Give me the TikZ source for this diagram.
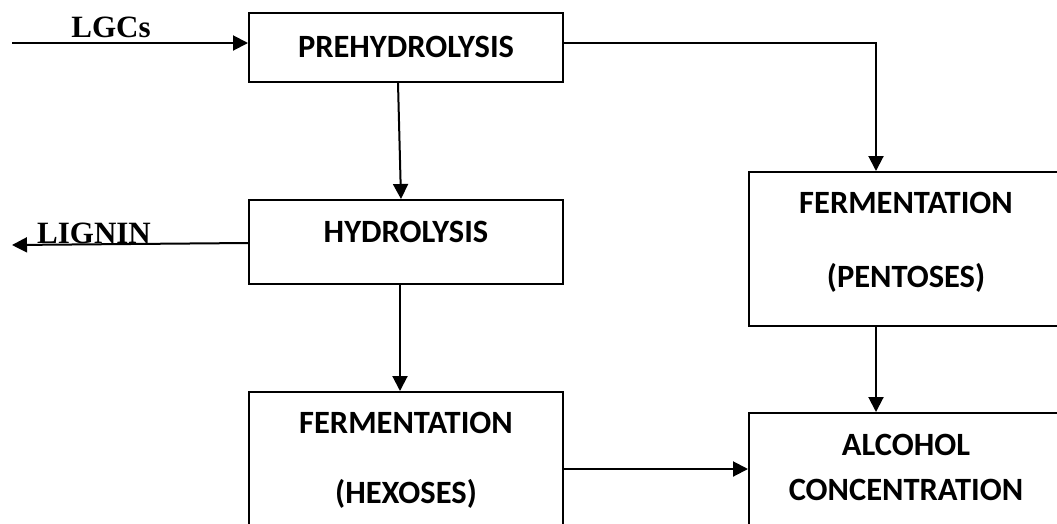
\documentclass[tikz,border=0pt]{standalone}
\usepackage{fontspec}
\setmainfont{Liberation Serif}
\newfontfamily\boxfont{Carlito}
\usetikzlibrary{arrows.meta,calc}
\begin{document}
\begin{tikzpicture}[x=1pt,y=-1pt,
  box/.style={draw, line width=2pt, minimum width=314pt, inner sep=0pt},
  boxtext/.style={font=\boxfont\bfseries\fontsize{32.5}{38}\selectfont, inner sep=0pt, anchor=base},
  lbl/.style={font=\bfseries\fontsize{31}{37}\selectfont, inner sep=0pt, anchor=base},
  arr/.style={line width=2pt, -{Triangle[length=15pt,width=15pt]}}]
\useasboundingbox (0,0) rectangle (1057,523);
\clip (0,0) rectangle (1057,523);
% boxes
\node[box, minimum height=69pt] (pre) at (406,47.5) {};
\node[box, minimum height=84pt] (hyd) at (406,242) {};
\node[box, minimum height=168pt] (hex) at (406,476) {};
\node[box, minimum height=154pt] (pent) at (906,249) {};
\node[box, minimum height=147pt] (alc) at (906,486.5) {};
% texts
\node[boxtext] (preT) at (406,57) {PREHYDROLYSIS};
\node[boxtext] (hydT) at (406,242) {HYDROLYSIS};
\node[boxtext] (hexT1) at (406,433) {FERMENTATION};
\node[boxtext] (hexT2) at (406,503) {(HEXOSES)};
\node[boxtext] (pentT1) at (906,213) {FERMENTATION};
\node[boxtext] (pentT2) at (906,287) {(PENTOSES)};
\node[boxtext] (alcT1) at (906,455) {ALCOHOL};
\node[boxtext] (alcT2) at (906,500) {CONCENTRATION};
\node[lbl] (lgc) at (111,37) {LGCs};
\node[lbl] (lig) at (94,243) {LIGNIN};
% connectors
\coordinate (lgcin) at (12,43);
\coordinate (ligout) at (12,245);
\draw[arr] (lgcin) -- (pre.west |- lgcin);
\draw[arr] ([xshift=-8pt]pre.south) -- ([xshift=-5pt]hyd.north);
\draw[arr] ($(hyd.west)+(0,1)$) -- (ligout);
\draw[arr] ([xshift=-6pt]hyd.south) -- ([xshift=-6pt]hex.north);
\draw[arr] ($(pre.east)+(0,-4.5)$) -| ([xshift=-30pt]pent.north);
\draw[arr] ([xshift=-30pt]pent.south) -- ([xshift=-30pt]alc.north);
\draw[arr] ($(hex.east)+(0,-7)$) -- ($(alc.west |- hex.east)+(0,-7)$);
\end{tikzpicture}
\end{document}
